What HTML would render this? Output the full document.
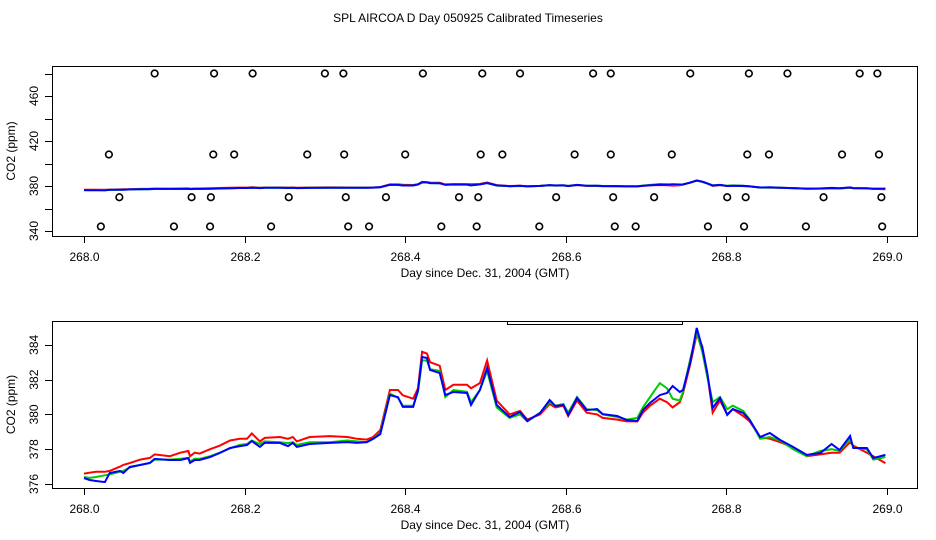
<!DOCTYPE html>
<html><head><meta charset="utf-8"><style>
html,body{margin:0;padding:0;background:#fff}
svg{display:block;font-family:"Liberation Sans",Arial,sans-serif}
</style></head><body>
<svg id="chart" width="936" height="540" viewBox="0 0 936 540">
<text x="468" y="22" text-anchor="middle" font-size="12">SPL AIRCOA D  Day 050925  Calibrated Timeseries</text>
</svg>
<script>
const days=[0,0.007,0.015,0.026,0.032,0.045,0.049,0.057,0.070,0.082,0.088,0.107,0.120,0.130,0.132,0.138,0.144,
0.157,0.169,0.182,0.194,0.203,0.209,0.219,0.225,0.244,0.254,0.260,0.265,0.281,0.306,0.328,0.340,0.352,0.360,0.369,
0.381,0.391,0.397,0.410,0.416,0.421,0.427,0.431,0.443,0.450,0.460,0.477,0.482,0.493,0.502,0.514,0.530,0.543,0.552,0.568,
0.580,0.587,0.597,0.603,0.614,0.626,0.639,0.646,0.664,0.676,0.689,0.696,0.705,0.717,0.726,0.733,0.742,0.746,0.755,0.763,
0.770,0.776,0.783,0.792,0.801,0.808,0.821,0.829,0.842,0.854,0.867,0.883,0.900,0.917,0.931,0.941,0.954,0.958,0.975,0.983,0.998];
const blueCO2=[376.34,376.23,376.17,376.11,376.63,376.75,376.63,376.98,377.09,377.21,377.44,377.38,377.38,377.49,377.21,377.38,377.38,
377.55,377.78,378.07,378.18,378.24,378.47,378.13,378.36,378.36,378.18,378.36,378.13,378.30,378.36,378.41,378.36,378.41,378.59,378.87,
381.11,380.99,380.43,380.43,381.40,383.30,383.24,382.55,382.38,381.11,381.29,381.23,380.54,381.40,382.67,380.54,379.85,380.14,379.62,380.08,
380.83,380.48,380.54,379.97,380.94,380.25,380.31,380.02,379.91,379.68,379.62,380.25,380.66,381.11,381.23,381.63,381.29,381.40,383.01,384.97,
383.82,382.44,380.37,380.94,379.97,380.31,380.08,379.68,378.70,378.93,378.53,378.13,377.67,377.78,378.30,377.95,378.76,378.07,378.07,377.49,377.67];
const greenCO2=[376.40,376.35,376.40,376.50,376.55,376.70,376.75,376.95,377.10,377.20,377.40,377.40,377.45,377.50,377.30,377.45,377.45,
377.60,377.80,378.05,378.25,378.30,378.50,378.30,378.45,378.40,378.35,378.40,378.25,378.40,378.40,378.50,378.45,378.40,378.60,378.95,
381.20,380.95,380.50,380.50,381.30,383.10,383.10,382.60,382.50,381.00,381.40,381.30,380.70,381.40,382.50,380.40,379.80,380.00,379.60,380.10,
380.70,380.50,380.60,380.10,381.00,380.30,380.25,380.00,379.85,379.70,379.80,380.40,381.00,381.80,381.50,380.90,380.80,381.30,383.20,384.70,
383.60,382.20,380.70,381.00,380.30,380.50,380.20,379.70,378.60,378.70,378.50,378.00,377.60,377.90,378.00,377.90,378.60,378.10,378.00,377.40,377.55];
const redCO2=[376.60,376.65,376.70,376.70,376.75,377.00,377.10,377.20,377.40,377.50,377.70,377.60,377.80,377.90,377.60,377.80,377.75,
378.00,378.20,378.50,378.60,378.60,378.90,378.45,378.65,378.70,378.60,378.70,378.45,378.70,378.75,378.70,378.60,378.55,378.70,379.10,
381.40,381.40,381.10,380.90,381.50,383.60,383.50,383.00,382.80,381.40,381.70,381.70,381.50,381.80,383.10,380.80,380.00,380.20,379.70,380.00,
380.60,380.40,380.50,379.90,380.80,380.10,380.00,379.80,379.70,379.60,379.60,380.10,380.50,380.90,380.70,380.40,380.70,381.20,382.90,384.60,
383.90,382.40,380.10,380.80,380.00,380.30,379.90,379.60,378.70,378.60,378.40,378.10,377.60,377.70,377.80,377.80,378.40,378.20,377.80,377.60,377.20];
const flagDays=[0.088,0.162,0.210,0.300,0.323,0.422,0.496,0.543,0.634,0.656,0.755,0.828,0.876,0.966,0.988,
0.031,0.161,0.187,0.278,0.324,0.400,0.494,0.521,0.611,0.656,0.732,0.826,0.853,0.944,0.990,
0.044,0.134,0.158,0.255,0.326,0.376,0.467,0.491,0.588,0.659,0.710,0.801,0.824,0.921,0.993,
0.021,0.112,0.157,0.233,0.329,0.355,0.445,0.489,0.567,0.661,0.687,0.777,0.822,0.899,0.994];
const flagVals=[480,480,480,480,480,480,480,480,480,480,480,480,480,480,480,
408,408,408,408,408,408,408,408,408,408,408,408,408,408,408,
370,370,370,370,370,370,370,370,370,370,370,370,370,370,370,
344,344,344,344,344,344,344,344,344,344,344,344,344,344,344];
const xTicks=[268.0,268.2,268.4,268.6,268.8,269.0];
const topYTicks=[340,360,380,400,420,440,460,480];
const topYLabels=[340,380,420,460];
const botYTicks=[376,378,380,382,384];

const NS="http://www.w3.org/2000/svg";
const svg=document.getElementById('chart');
function mk(tag,attrs,parent){const e=document.createElementNS(NS,tag);for(const k in attrs)e.setAttribute(k,attrs[k]);(parent||svg).appendChild(e);return e;}
const xS=d=>84+(d-268)*803;

function panel(id,top,bottom,yScale,yTicks,yLabels,fmtLbl){
  const g=mk('g',{});
  
  
  const box=mk('rect',{x:52.5,y:top+0.5,width:865,height:bottom-top,fill:'none',stroke:'#000','stroke-width':1},g);
  
  
  xTicks.forEach(t=>{
    const x=Math.round(xS(t))+0.5;
    const tk=mk('line',{x1:x,x2:x,y1:bottom,y2:bottom+7,stroke:'#000'},g);
    
    
    const tl=mk('text',{x:x,y:bottom+25,'text-anchor':'middle','font-size':12},g);
    
    
    tl.textContent=t.toFixed(1);
  });
  yTicks.forEach(v=>{
    const y=Math.round(yScale(v))+0.5;
    const tk=mk('line',{x1:45,x2:52,y1:y,y2:y,stroke:'#000'},g);
    
    
  });
  yLabels.forEach(v=>{
    const y=yScale(v);
    const tl=mk('text',{x:0,y:0,'text-anchor':'middle','font-size':12,transform:`translate(38,${y}) rotate(-90)`},g);
    
    
    tl.textContent=fmtLbl(v);
  });
  const xt=mk('text',{x:485,y:bottom+41,'text-anchor':'middle','font-size':12},g);
  
  
  xt.textContent='Day since Dec. 31, 2004 (GMT)';
  const yt=mk('text',{x:0,y:0,'text-anchor':'middle','font-size':12,transform:`translate(15,${(top+bottom)/2}) rotate(-90)`},g);
  
  
  yt.textContent='CO2 (ppm)';
  return g;
}
function series(g,vals,color,name,yScale){
  let d='';
  vals.forEach((v,i)=>{d+=(i?'L':'M')+xS(268+days[i]).toFixed(1)+','+yScale(v).toFixed(1);});
  const p=mk('path',{d:d,fill:'none',stroke:color,'stroke-width':2},g);
  
  
}
// top panel
const yTop=v=>231-(v-340)*1.125;
const gT=panel('top',66,236,yTop,topYTicks,topYLabels,v=>String(v));
series(gT,redCO2,'#f00','top-red-series',yTop);
series(gT,greenCO2,'#0c0','top-green-series',yTop);
series(gT,blueCO2,'#00f','top-blue-series',yTop);
flagDays.forEach((d,i)=>{
  const c=mk('circle',{cx:xS(268+d),cy:yTop(flagVals[i]),r:3.3,fill:'none',stroke:'#000','stroke-width':1.6},gT);
  
  
});
// bottom panel
const yBot=v=>484-(v-376)*17.4;
const gB=panel('bottom',321,488,yBot,botYTicks,botYTicks,v=>String(v));
const br=mk('path',{d:'M507.5,321 V324.5 H682.5 V321',fill:'none',stroke:'#000'},gB);


series(gB,redCO2,'#f00','bottom-red-series',yBot);
series(gB,greenCO2,'#0c0','bottom-green-series',yBot);
series(gB,blueCO2,'#00f','bottom-blue-series',yBot);
</script>
</body></html>
